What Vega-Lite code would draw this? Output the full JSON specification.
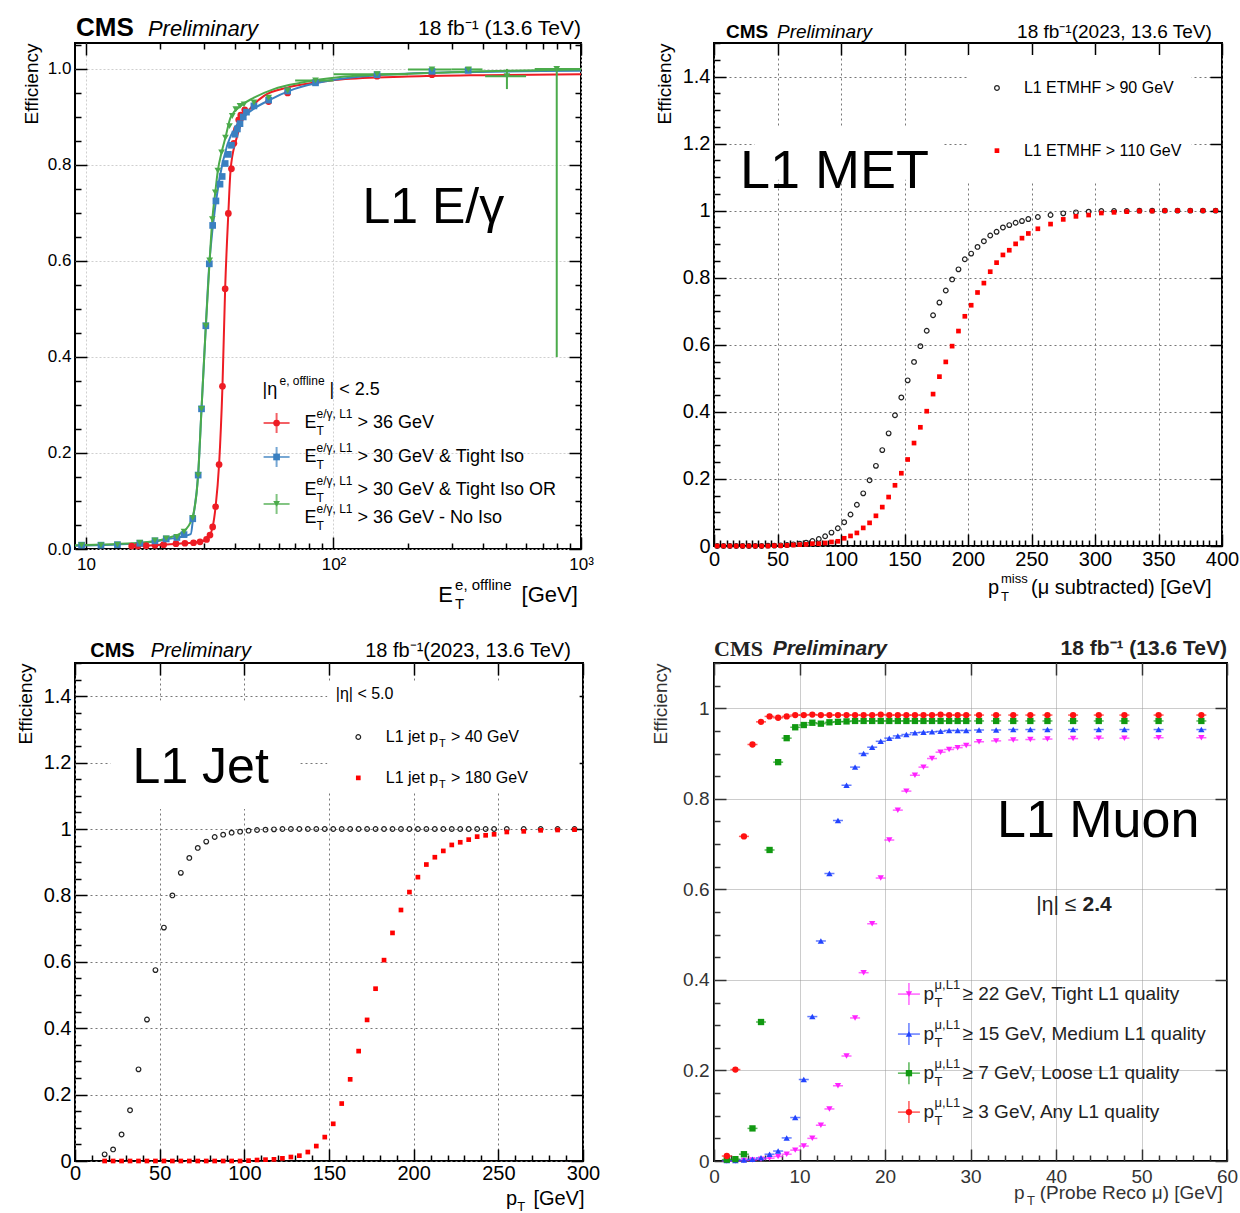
{
"$schema": "https://vega.github.io/schema/vega-lite/v6.json",
"background": "white",
"padding": {"left": 15, "top": 14, "right": 0, "bottom": 0},
"config": {
  "font": "Liberation Sans",
  "view": {"stroke": "black", "strokeWidth": 2},
  "axis": {"domain": false, "labelColor": "black", "tickColor": "black", "tickWidth": 1.5, "tickCount": 300, "labelFont": "Liberation Sans", "titleFont": "Liberation Sans", "titleFontWeight": "normal", "titleColor": "black", "labelFlush": false, "labelOverlap": false}
},
"resolve": {"scale": {"color": "independent", "shape": "independent"}},
"datasets": {
  "tl_pts": [
    {"s":"r","x":15.3,"y":0.006},{"s":"r","x":16.2,"y":0.006},{"s":"r","x":17.5,"y":0.007},{"s":"r","x":19.0,"y":0.008},{"s":"r","x":20.6,"y":0.009},{"s":"r","x":23.1,"y":0.011},{"s":"r","x":25.1,"y":0.012},{"s":"r","x":27.2,"y":0.013},{"s":"r","x":28.9,"y":0.015},{"s":"r","x":30.7,"y":0.020},{"s":"r","x":31.7,"y":0.029},{"s":"r","x":32.5,"y":0.046},{"s":"r","x":33.4,"y":0.088},{"s":"r","x":34.5,"y":0.176},{"s":"r","x":35.6,"y":0.339},{"s":"r","x":36.5,"y":0.542},{"s":"r","x":37.6,"y":0.699},{"s":"r","x":38.7,"y":0.792},{"s":"r","x":39.6,"y":0.845},{"s":"r","x":40.6,"y":0.875},{"s":"r","x":41.4,"y":0.894},{"s":"r","x":42.2,"y":0.904},{"s":"r","x":43.8,"y":0.915},{"s":"r","x":54.7,"y":0.932},{"s":"r","x":65.3,"y":0.950},{"s":"r","x":84.6,"y":0.972},{"s":"r","x":150,"y":0.985},{"s":"r","x":250,"y":0.988},
    {"s":"b","x":9.6,"y":0.008},{"s":"b","x":11.5,"y":0.008},{"s":"b","x":13.4,"y":0.009},{"s":"b","x":16.5,"y":0.012},{"s":"b","x":19.0,"y":0.017},{"s":"b","x":21.1,"y":0.021},{"s":"b","x":23.3,"y":0.024},{"s":"b","x":24.9,"y":0.030},{"s":"b","x":27.0,"y":0.063},{"s":"b","x":28.4,"y":0.154},{"s":"b","x":29.3,"y":0.292},{"s":"b","x":30.5,"y":0.465},{"s":"b","x":31.5,"y":0.594},{"s":"b","x":32.5,"y":0.674},{"s":"b","x":33.5,"y":0.725},{"s":"b","x":34.8,"y":0.760},{"s":"b","x":35.5,"y":0.776},{"s":"b","x":36.5,"y":0.803},{"s":"b","x":37.6,"y":0.822},{"s":"b","x":38.7,"y":0.841},{"s":"b","x":40.0,"y":0.864},{"s":"b","x":40.9,"y":0.875},{"s":"b","x":41.9,"y":0.886},{"s":"b","x":43.2,"y":0.900},{"s":"b","x":44.5,"y":0.910},{"s":"b","x":47.7,"y":0.923},{"s":"b","x":54.7,"y":0.935},{"s":"b","x":65.3,"y":0.954},{"s":"b","x":84.6,"y":0.971},{"s":"b","x":150,"y":0.988},{"s":"b","x":250,"y":0.995},{"s":"b","x":350,"y":0.997},
    {"s":"g","x":9.6,"y":0.008},{"s":"g","x":11.5,"y":0.008},{"s":"g","x":13.4,"y":0.009},{"s":"g","x":16.5,"y":0.013},{"s":"g","x":19.0,"y":0.018},{"s":"g","x":21.1,"y":0.022},{"s":"g","x":23.3,"y":0.025},{"s":"g","x":24.9,"y":0.036},{"s":"g","x":27.0,"y":0.065},{"s":"g","x":28.4,"y":0.154},{"s":"g","x":29.3,"y":0.292},{"s":"g","x":30.5,"y":0.465},{"s":"g","x":31.6,"y":0.601},{"s":"g","x":32.4,"y":0.687},{"s":"g","x":33.3,"y":0.743},{"s":"g","x":34.1,"y":0.788},{"s":"g","x":35.3,"y":0.826},{"s":"g","x":36.6,"y":0.857},{"s":"g","x":38.0,"y":0.881},{"s":"g","x":39.0,"y":0.902},{"s":"g","x":40.3,"y":0.916},{"s":"g","x":41.9,"y":0.923},{"s":"g","x":43.5,"y":0.926},{"s":"g","x":47.7,"y":0.930},{"s":"g","x":54.7,"y":0.940},{"s":"g","x":65.3,"y":0.955},{"s":"g","x":84.6,"y":0.976},{"s":"g","x":150,"y":0.989},{"s":"g","x":250,"y":0.999},{"s":"g","x":351,"y":0.999},{"s":"g","x":502,"y":0.985},{"s":"g","x":798,"y":1.0}
  ],
  "tl_fit": [
    {"s":"r","x":15.0,"y":0.006},{"s":"r","x":20.6,"y":0.009},{"s":"r","x":25.1,"y":0.012},{"s":"r","x":28.9,"y":0.015},{"s":"r","x":30.7,"y":0.020},{"s":"r","x":31.7,"y":0.029},{"s":"r","x":32.5,"y":0.046},{"s":"r","x":33.4,"y":0.088},{"s":"r","x":34.5,"y":0.176},{"s":"r","x":35.6,"y":0.339},{"s":"r","x":36.5,"y":0.542},{"s":"r","x":37.6,"y":0.699},{"s":"r","x":38.4,"y":0.79},{"s":"r","x":40.3,"y":0.85},{"s":"r","x":42.8,"y":0.892},{"s":"r","x":46.3,"y":0.919},{"s":"r","x":52.4,"y":0.944},{"s":"r","x":65.1,"y":0.961},{"s":"r","x":83.3,"y":0.971},{"s":"r","x":106.7,"y":0.978},{"s":"r","x":200,"y":0.984},{"s":"r","x":400,"y":0.987},{"s":"r","x":1000,"y":0.989},
    {"s":"b","x":9.03,"y":0.007},{"s":"b","x":16.5,"y":0.012},{"s":"b","x":21.1,"y":0.02},{"s":"b","x":26.5,"y":0.031},{"s":"b","x":27.1,"y":0.065},{"s":"b","x":28.4,"y":0.156},{"s":"b","x":29.3,"y":0.292},{"s":"b","x":30.5,"y":0.465},{"s":"b","x":31.5,"y":0.594},{"s":"b","x":32.4,"y":0.6625},{"s":"b","x":34.5,"y":0.767},{"s":"b","x":37.3,"y":0.843},{"s":"b","x":40.9,"y":0.885},{"s":"b","x":46.3,"y":0.9125},{"s":"b","x":54.0,"y":0.933},{"s":"b","x":69.2,"y":0.958},{"s":"b","x":94.3,"y":0.975},{"s":"b","x":150,"y":0.987},{"s":"b","x":300,"y":0.993},{"s":"b","x":1000,"y":0.996},
    {"s":"g","x":9.03,"y":0.008},{"s":"g","x":16.5,"y":0.013},{"s":"g","x":21.1,"y":0.022},{"s":"g","x":24.9,"y":0.0375},{"s":"g","x":26.9,"y":0.065},{"s":"g","x":28.4,"y":0.156},{"s":"g","x":29.3,"y":0.292},{"s":"g","x":30.5,"y":0.465},{"s":"g","x":31.6,"y":0.601},{"s":"g","x":32.4,"y":0.687},{"s":"g","x":33.3,"y":0.743},{"s":"g","x":34.1,"y":0.788},{"s":"g","x":35.3,"y":0.826},{"s":"g","x":36.6,"y":0.857},{"s":"g","x":38.4,"y":0.899},{"s":"g","x":42.2,"y":0.923},{"s":"g","x":47.7,"y":0.94},{"s":"g","x":57.4,"y":0.958},{"s":"g","x":73.6,"y":0.971},{"s":"g","x":106.7,"y":0.983},{"s":"g","x":200,"y":0.99},{"s":"g","x":400,"y":0.995},{"s":"g","x":1000,"y":0.999}
  ],
  "tl_err": [
    {"x":84.6,"xlo":70,"xhi":100,"y":0.976,"ylo":0.972,"yhi":0.98},
    {"x":150,"xlo":100,"xhi":200,"y":0.989,"ylo":0.985,"yhi":0.993},
    {"x":250,"xlo":200,"xhi":300,"y":0.999,"ylo":0.995,"yhi":1.0},
    {"x":351,"xlo":300,"xhi":400,"y":0.999,"ylo":0.995,"yhi":1.0},
    {"x":502,"xlo":410,"xhi":600,"y":0.985,"ylo":0.958,"yhi":1.0},
    {"x":798,"xlo":650,"xhi":1000,"y":1.0,"ylo":0.40,"yhi":1.0}
  ],
  "tr_b": [
    {"x":2.5,"y":0},{"x":7.5,"y":0},{"x":12.5,"y":0},{"x":17.5,"y":0},{"x":22.5,"y":0},{"x":27.5,"y":0},{"x":32.5,"y":0},{"x":37.5,"y":0},{"x":42.5,"y":0.001},{"x":47.5,"y":0.001},{"x":52.5,"y":0.002},{"x":57.5,"y":0.003},{"x":62.5,"y":0.005},{"x":67.5,"y":0.007},{"x":72.5,"y":0.010},{"x":77.5,"y":0.015},{"x":82.5,"y":0.021},{"x":87.5,"y":0.029},{"x":92.5,"y":0.040},{"x":97.5,"y":0.053},{"x":102.5,"y":0.071},{"x":107.5,"y":0.094},{"x":112.5,"y":0.123},{"x":117.5,"y":0.157},{"x":122.5,"y":0.196},{"x":127.5,"y":0.239},{"x":132.5,"y":0.286},{"x":137.5,"y":0.336},{"x":142.5,"y":0.390},{"x":147.5,"y":0.443},{"x":152.5,"y":0.494},{"x":157.5,"y":0.549},{"x":162.5,"y":0.596},{"x":167.5,"y":0.642},{"x":172.5,"y":0.688},{"x":177.5,"y":0.726},{"x":182.5,"y":0.762},{"x":187.5,"y":0.795},{"x":192.5,"y":0.825},{"x":197.5,"y":0.855},{"x":202.5,"y":0.872},{"x":207.5,"y":0.892},{"x":212.5,"y":0.909},{"x":217.5,"y":0.926},{"x":222.5,"y":0.937},{"x":227.5,"y":0.950},{"x":232.5,"y":0.957},{"x":237.5,"y":0.964},{"x":242.5,"y":0.969},{"x":247.5,"y":0.975},{"x":255,"y":0.981},{"x":265,"y":0.987},{"x":275,"y":0.992},{"x":285,"y":0.995},{"x":295,"y":0.997},{"x":305,"y":0.999},{"x":315,"y":0.999},{"x":325,"y":0.999},{"x":335,"y":1.0},{"x":345,"y":1.0},{"x":355,"y":1.0},{"x":365,"y":1.0},{"x":375,"y":1.0},{"x":385,"y":1.0},{"x":395,"y":1.0}
  ],
  "tr_r": [
    {"x":2.5,"y":0},{"x":7.5,"y":0},{"x":12.5,"y":0},{"x":17.5,"y":0},{"x":22.5,"y":0},{"x":27.5,"y":0},{"x":32.5,"y":0},{"x":37.5,"y":0},{"x":42.5,"y":0},{"x":47.5,"y":0.001},{"x":52.5,"y":0.001},{"x":57.5,"y":0.002},{"x":62.5,"y":0.003},{"x":67.5,"y":0.004},{"x":72.5,"y":0.005},{"x":77.5,"y":0.007},{"x":82.5,"y":0.007},{"x":87.5,"y":0.009},{"x":92.5,"y":0.012},{"x":97.5,"y":0.014},{"x":102.5,"y":0.023},{"x":107.5,"y":0.030},{"x":112.5,"y":0.039},{"x":117.5,"y":0.054},{"x":122.5,"y":0.069},{"x":127.5,"y":0.090},{"x":132.5,"y":0.116},{"x":137.5,"y":0.146},{"x":142.5,"y":0.181},{"x":147.5,"y":0.217},{"x":152.5,"y":0.258},{"x":157.5,"y":0.307},{"x":162.5,"y":0.354},{"x":167.5,"y":0.402},{"x":172.5,"y":0.453},{"x":177.5,"y":0.505},{"x":182.5,"y":0.549},{"x":187.5,"y":0.596},{"x":192.5,"y":0.641},{"x":197.5,"y":0.685},{"x":202.5,"y":0.718},{"x":207.5,"y":0.756},{"x":212.5,"y":0.784},{"x":217.5,"y":0.818},{"x":222.5,"y":0.845},{"x":227.5,"y":0.868},{"x":232.5,"y":0.882},{"x":237.5,"y":0.901},{"x":242.5,"y":0.918},{"x":247.5,"y":0.932},{"x":255,"y":0.946},{"x":265,"y":0.960},{"x":275,"y":0.974},{"x":285,"y":0.983},{"x":295,"y":0.987},{"x":305,"y":0.993},{"x":315,"y":0.995},{"x":325,"y":0.997},{"x":335,"y":0.999},{"x":345,"y":0.999},{"x":355,"y":1.0},{"x":365,"y":1.0},{"x":375,"y":1.0},{"x":385,"y":1.0},{"x":395,"y":1.0}
  ],
  "bl_b": [
    {"x":17.5,"y":0.020},{"x":22.5,"y":0.035},{"x":27.5,"y":0.080},{"x":32.5,"y":0.153},{"x":37.5,"y":0.276},{"x":42.5,"y":0.426},{"x":47.5,"y":0.575},{"x":52.5,"y":0.703},{"x":57.5,"y":0.800},{"x":62.5,"y":0.868},{"x":67.5,"y":0.913},{"x":72.5,"y":0.943},{"x":77.5,"y":0.962},{"x":82.5,"y":0.976},{"x":87.5,"y":0.983},{"x":92.5,"y":0.989},{"x":97.5,"y":0.992},{"x":102.5,"y":0.995},{"x":107.5,"y":0.997},{"x":112.5,"y":0.998},{"x":117.5,"y":0.999},{"x":122.5,"y":1.0},{"x":127.5,"y":1.0},{"x":132.5,"y":1.0},{"x":137.5,"y":1.0},{"x":142.5,"y":1.0},{"x":147.5,"y":1.0},{"x":152.5,"y":1.0},{"x":157.5,"y":1.0},{"x":162.5,"y":1.0},{"x":167.5,"y":1.0},{"x":172.5,"y":1.0},{"x":177.5,"y":1.0},{"x":182.5,"y":1.0},{"x":187.5,"y":1.0},{"x":192.5,"y":1.0},{"x":197.5,"y":1.0},{"x":202.5,"y":1.0},{"x":207.5,"y":1.0},{"x":212.5,"y":1.0},{"x":217.5,"y":1.0},{"x":222.5,"y":1.0},{"x":227.5,"y":1.0},{"x":232.5,"y":1.0},{"x":237.5,"y":1.0},{"x":242.5,"y":1.0},{"x":247.5,"y":1.0},{"x":255,"y":1.0},{"x":265,"y":1.0},{"x":275,"y":1.0},{"x":285,"y":1.0},{"x":295,"y":1.0}
  ],
  "bl_r": [
    {"x":17.5,"y":0},{"x":22.5,"y":0},{"x":27.5,"y":0},{"x":32.5,"y":0},{"x":37.5,"y":0},{"x":42.5,"y":0},{"x":47.5,"y":0},{"x":52.5,"y":0},{"x":57.5,"y":0},{"x":62.5,"y":0},{"x":67.5,"y":0},{"x":72.5,"y":0},{"x":77.5,"y":0},{"x":82.5,"y":0},{"x":87.5,"y":0},{"x":92.5,"y":0},{"x":97.5,"y":0},{"x":102.5,"y":0.001},{"x":107.5,"y":0.003},{"x":112.5,"y":0.004},{"x":117.5,"y":0.005},{"x":122.5,"y":0.008},{"x":127.5,"y":0.012},{"x":132.5,"y":0.016},{"x":137.5,"y":0.027},{"x":142.5,"y":0.045},{"x":147.5,"y":0.072},{"x":152.5,"y":0.112},{"x":157.5,"y":0.173},{"x":162.5,"y":0.246},{"x":167.5,"y":0.331},{"x":172.5,"y":0.425},{"x":177.5,"y":0.519},{"x":182.5,"y":0.605},{"x":187.5,"y":0.687},{"x":192.5,"y":0.756},{"x":197.5,"y":0.810},{"x":202.5,"y":0.855},{"x":207.5,"y":0.893},{"x":212.5,"y":0.915},{"x":217.5,"y":0.934},{"x":222.5,"y":0.952},{"x":227.5,"y":0.960},{"x":232.5,"y":0.968},{"x":237.5,"y":0.977},{"x":242.5,"y":0.981},{"x":247.5,"y":0.984},{"x":255,"y":0.991},{"x":265,"y":0.993},{"x":275,"y":0.996},{"x":285,"y":0.997},{"x":295,"y":0.998}
  ],
  "br_pts": [
    {"s":"m","x":1.5,"y":0.0},{"s":"m","x":2.5,"y":0.0},{"s":"m","x":3.5,"y":0.001},{"s":"m","x":4.5,"y":0.002},{"s":"m","x":5.5,"y":0.004},{"s":"m","x":6.5,"y":0.006},{"s":"m","x":7.5,"y":0.010},{"s":"m","x":8.5,"y":0.015},{"s":"m","x":9.5,"y":0.024},{"s":"m","x":10.5,"y":0.033},{"s":"m","x":11.5,"y":0.050},{"s":"m","x":12.5,"y":0.079},{"s":"m","x":13.5,"y":0.115},{"s":"m","x":14.5,"y":0.166},{"s":"m","x":15.5,"y":0.232},{"s":"m","x":16.5,"y":0.316},{"s":"m","x":17.5,"y":0.416},{"s":"m","x":18.5,"y":0.524},{"s":"m","x":19.5,"y":0.625},{"s":"m","x":20.5,"y":0.709},{"s":"m","x":21.5,"y":0.775},{"s":"m","x":22.5,"y":0.817},{"s":"m","x":23.5,"y":0.852},{"s":"m","x":24.5,"y":0.870},{"s":"m","x":25.5,"y":0.889},{"s":"m","x":26.5,"y":0.903},{"s":"m","x":27.5,"y":0.909},{"s":"m","x":28.5,"y":0.913},{"s":"m","x":29.5,"y":0.918},{"s":"m","x":31,"y":0.926},{"s":"m","x":33,"y":0.928},{"s":"m","x":35,"y":0.930},{"s":"m","x":37,"y":0.931},{"s":"m","x":39,"y":0.932},{"s":"m","x":42,"y":0.933},{"s":"m","x":45,"y":0.934},{"s":"m","x":48,"y":0.934},{"s":"m","x":52,"y":0.935},{"s":"m","x":57,"y":0.935},
    {"s":"b","x":1.5,"y":0.001},{"s":"b","x":2.5,"y":0.001},{"s":"b","x":3.5,"y":0.002},{"s":"b","x":4.5,"y":0.004},{"s":"b","x":5.5,"y":0.007},{"s":"b","x":6.5,"y":0.015},{"s":"b","x":7.5,"y":0.022},{"s":"b","x":8.5,"y":0.051},{"s":"b","x":9.5,"y":0.096},{"s":"b","x":10.5,"y":0.180},{"s":"b","x":11.5,"y":0.319},{"s":"b","x":12.5,"y":0.486},{"s":"b","x":13.5,"y":0.635},{"s":"b","x":14.5,"y":0.752},{"s":"b","x":15.5,"y":0.830},{"s":"b","x":16.5,"y":0.870},{"s":"b","x":17.5,"y":0.900},{"s":"b","x":18.5,"y":0.914},{"s":"b","x":19.5,"y":0.927},{"s":"b","x":20.5,"y":0.934},{"s":"b","x":21.5,"y":0.939},{"s":"b","x":22.5,"y":0.942},{"s":"b","x":23.5,"y":0.946},{"s":"b","x":24.5,"y":0.947},{"s":"b","x":25.5,"y":0.948},{"s":"b","x":26.5,"y":0.949},{"s":"b","x":27.5,"y":0.951},{"s":"b","x":28.5,"y":0.951},{"s":"b","x":29.5,"y":0.951},{"s":"b","x":31,"y":0.952},{"s":"b","x":33,"y":0.952},{"s":"b","x":35,"y":0.953},{"s":"b","x":37,"y":0.953},{"s":"b","x":39,"y":0.953},{"s":"b","x":42,"y":0.953},{"s":"b","x":45,"y":0.953},{"s":"b","x":48,"y":0.953},{"s":"b","x":52,"y":0.953},{"s":"b","x":57,"y":0.953},
    {"s":"g","x":1.5,"y":0.003},{"s":"g","x":2.5,"y":0.004},{"s":"g","x":3.5,"y":0.015},{"s":"g","x":4.5,"y":0.072},{"s":"g","x":5.5,"y":0.307},{"s":"g","x":6.5,"y":0.687},{"s":"g","x":7.5,"y":0.881},{"s":"g","x":8.5,"y":0.934},{"s":"g","x":9.5,"y":0.958},{"s":"g","x":10.5,"y":0.963},{"s":"g","x":11.5,"y":0.968},{"s":"g","x":12.5,"y":0.966},{"s":"g","x":13.5,"y":0.969},{"s":"g","x":14.5,"y":0.970},{"s":"g","x":15.5,"y":0.971},{"s":"g","x":16.5,"y":0.972},{"s":"g","x":17.5,"y":0.972},{"s":"g","x":18.5,"y":0.972},{"s":"g","x":19.5,"y":0.972},{"s":"g","x":20.5,"y":0.972},{"s":"g","x":21.5,"y":0.972},{"s":"g","x":22.5,"y":0.972},{"s":"g","x":23.5,"y":0.972},{"s":"g","x":24.5,"y":0.972},{"s":"g","x":25.5,"y":0.972},{"s":"g","x":26.5,"y":0.972},{"s":"g","x":27.5,"y":0.972},{"s":"g","x":28.5,"y":0.972},{"s":"g","x":29.5,"y":0.972},{"s":"g","x":31,"y":0.972},{"s":"g","x":33,"y":0.972},{"s":"g","x":35,"y":0.972},{"s":"g","x":37,"y":0.972},{"s":"g","x":39,"y":0.972},{"s":"g","x":42,"y":0.972},{"s":"g","x":45,"y":0.972},{"s":"g","x":48,"y":0.972},{"s":"g","x":52,"y":0.972},{"s":"g","x":57,"y":0.972},
    {"s":"r","x":1.5,"y":0.011},{"s":"r","x":2.5,"y":0.202},{"s":"r","x":3.5,"y":0.717},{"s":"r","x":4.5,"y":0.920},{"s":"r","x":5.5,"y":0.970},{"s":"r","x":6.5,"y":0.982},{"s":"r","x":7.5,"y":0.979},{"s":"r","x":8.5,"y":0.982},{"s":"r","x":9.5,"y":0.985},{"s":"r","x":10.5,"y":0.985},{"s":"r","x":11.5,"y":0.986},{"s":"r","x":12.5,"y":0.985},{"s":"r","x":13.5,"y":0.985},{"s":"r","x":14.5,"y":0.985},{"s":"r","x":15.5,"y":0.985},{"s":"r","x":16.5,"y":0.985},{"s":"r","x":17.5,"y":0.985},{"s":"r","x":18.5,"y":0.985},{"s":"r","x":19.5,"y":0.986},{"s":"r","x":20.5,"y":0.985},{"s":"r","x":21.5,"y":0.985},{"s":"r","x":22.5,"y":0.985},{"s":"r","x":23.5,"y":0.985},{"s":"r","x":24.5,"y":0.985},{"s":"r","x":25.5,"y":0.985},{"s":"r","x":26.5,"y":0.986},{"s":"r","x":27.5,"y":0.985},{"s":"r","x":28.5,"y":0.985},{"s":"r","x":29.5,"y":0.985},{"s":"r","x":31,"y":0.985},{"s":"r","x":33,"y":0.985},{"s":"r","x":35,"y":0.985},{"s":"r","x":37,"y":0.985},{"s":"r","x":39,"y":0.985},{"s":"r","x":42,"y":0.985},{"s":"r","x":45,"y":0.985},{"s":"r","x":48,"y":0.985},{"s":"r","x":52,"y":0.985},{"s":"r","x":57,"y":0.985}
  ]
},
"columns": 2,
"spacing": {"row": 114, "column": 131},
"bounds": "flush",
"concat": [
  {"width": 506, "height": 506,
   "resolve": {"axis": {"x": "independent", "y": "independent"}},
   "layer": [
   {"layer": [
    {"data": {"name": "tl_fit"}, "mark": {"type": "line", "strokeWidth": 2, "interpolate": "monotone"},
     "encoding": {
       "x": {"field": "x", "type": "quantitative", "scale": {"type": "log", "domain": [9.03, 1000], "nice": false},
             "axis": {"values": [10,20,30,40,50,60,70,80,90,100,200,300,400,500,600,700,800,900,1000], "tickCount": 300,
                      "labelExpr": "datum.value == 10 ? '10' : (datum.value == 100 ? '10²' : (datum.value == 1000 ? '10³' : ''))",
                      "tickSize": {"condition": {"test": "datum.value == 10 || datum.value == 100 || datum.value == 1000", "value": -12}, "value": -6},
                      "gridOpacity": {"condition": {"test": "datum.value == 10 || datum.value == 100 || datum.value == 1000", "value": 1}, "value": 0},
                      "title": null, "labelFontSize": 17, "gridColor": "#cfcfcf", "gridDash": [2, 2], "labelPadding": 19}},
       "y": {"field": "y", "type": "quantitative", "scale": {"domain": [0, 1.054], "nice": false},
             "axis": {"values": [0,0.05,0.1,0.15,0.2,0.25,0.3,0.35,0.4,0.45,0.5,0.55,0.6,0.65,0.7,0.75,0.8,0.85,0.9,0.95,1.0,1.05], "tickCount": 300,
                      "labelExpr": "abs(datum.value*5 - round(datum.value*5)) < 0.01 ? format(datum.value, '.1f') : ''",
                      "tickSize": {"condition": {"test": "abs(datum.value*5 - round(datum.value*5)) < 0.01", "value": -12}, "value": -6},
                      "gridOpacity": {"condition": {"test": "abs(datum.value*5 - round(datum.value*5)) < 0.01", "value": 1}, "value": 0},
                      "title": "Efficiency", "titleFontSize": 19, "titleAnchor": "end", "titlePadding": 6, "labelFontSize": 17, "gridColor": "#cfcfcf", "gridDash": [2, 2], "labelPadding": 16}},
       "color": {"field": "s", "type": "nominal", "scale": {"domain": ["r", "b", "g"], "range": ["#ee1c24", "#3a80c1", "#4bab4b"]}, "legend": null},
       "detail": {"field": "s"}}},
    {"data": {"name": "tl_err"}, "mark": {"type": "rule", "color": "#4bab4b", "strokeWidth": 2},
     "encoding": {"x": {"field": "xlo", "type": "quantitative"}, "x2": {"field": "xhi"}, "y": {"field": "y", "type": "quantitative"}}},
    {"data": {"name": "tl_err"}, "mark": {"type": "rule", "color": "#4bab4b", "strokeWidth": 2},
     "encoding": {"x": {"field": "x", "type": "quantitative"}, "y": {"field": "ylo", "type": "quantitative"}, "y2": {"field": "yhi"}}},
    {"data": {"name": "tl_pts"}, "mark": {"type": "point", "filled": true, "opacity": 1, "size": 45},
     "encoding": {"x": {"field": "x", "type": "quantitative"}, "y": {"field": "y", "type": "quantitative"},
       "color": {"field": "s", "type": "nominal", "legend": null},
       "shape": {"field": "s", "type": "nominal", "scale": {"domain": ["r", "b", "g"], "range": ["circle", "square", "triangle-down"]}, "legend": null}}},
    {"data": {"values": [{"s": "r", "x": 58.9, "y": 0.2625}, {"s": "b", "x": 58.9, "y": 0.1917}, {"s": "g", "x": 58.9, "y": 0.0938}]},
     "layer": [
      {"mark": {"type": "tick", "orient": "horizontal", "size": 26, "thickness": 2},
       "encoding": {"x": {"field": "x", "type": "quantitative"}, "y": {"field": "y", "type": "quantitative"}, "color": {"field": "s", "type": "nominal", "legend": null}}},
      {"mark": {"type": "tick", "orient": "vertical", "size": 20, "thickness": 2},
       "encoding": {"x": {"field": "x", "type": "quantitative"}, "y": {"field": "y", "type": "quantitative"}, "color": {"field": "s", "type": "nominal", "legend": null}}},
      {"mark": {"type": "point", "filled": true, "opacity": 1, "size": 45},
       "encoding": {"x": {"field": "x", "type": "quantitative"}, "y": {"field": "y", "type": "quantitative"}, "color": {"field": "s", "type": "nominal", "legend": null}, "shape": {"field": "s", "type": "nominal", "legend": null}}}
     ]},
    {"data": {"values": [{"t": "CMS", "x": 9.11, "y": 1.085}]}, "mark": {"type": "text", "align": "left", "baseline": "middle", "fontSize": 26, "fontWeight": "bold"},
     "encoding": {"x": {"field": "x", "type": "quantitative"}, "y": {"field": "y", "type": "quantitative"}, "text": {"field": "t"}}},
    {"data": {"values": [{"t": "Preliminary", "x": 17.8, "y": 1.083}]}, "mark": {"type": "text", "align": "left", "baseline": "middle", "fontSize": 22, "fontStyle": "italic"},
     "encoding": {"x": {"field": "x", "type": "quantitative"}, "y": {"field": "y", "type": "quantitative"}, "text": {"field": "t"}}},
    {"data": {"values": [{"t": "18 fb⁻¹ (13.6 TeV)", "x": 1000, "y": 1.083}]}, "mark": {"type": "text", "align": "right", "baseline": "middle", "fontSize": 21},
     "encoding": {"x": {"field": "x", "type": "quantitative"}, "y": {"field": "y", "type": "quantitative"}, "text": {"field": "t"}}},
    {"data": {"values": [{"t": "L1 E/γ", "x": 130.9, "y": 0.71}]}, "mark": {"type": "text", "align": "left", "baseline": "middle", "fontSize": 50},
     "encoding": {"x": {"field": "x", "type": "quantitative"}, "y": {"field": "y", "type": "quantitative"}, "text": {"field": "t"}}},
    {"data": {"values": [{"t": "|η", "x": 51.7, "y": 0.331}, {"t": "| < 2.5", "x": 96.4, "y": 0.331}, {"t": "E", "x": 76.4, "y": 0.2625}, {"t": "E", "x": 76.4, "y": 0.1917}, {"t": "E", "x": 76.4, "y": 0.1229}, {"t": "E", "x": 76.4, "y": 0.0646}, {"t": "> 36 GeV", "x": 125, "y": 0.2625}, {"t": "> 30 GeV & Tight Iso", "x": 125, "y": 0.1917}, {"t": "> 30 GeV & Tight Iso OR", "x": 125, "y": 0.1229}, {"t": "> 36 GeV - No Iso", "x": 125, "y": 0.0646}]},
     "mark": {"type": "text", "align": "left", "baseline": "middle", "fontSize": 18},
     "encoding": {"x": {"field": "x", "type": "quantitative"}, "y": {"field": "y", "type": "quantitative"}, "text": {"field": "t"}}},
    {"data": {"values": [{"t": "e, offline", "x": 60.5, "y": 0.331}, {"t": "e/γ, L1", "x": 85.4, "y": 0.2625}, {"t": "e/γ, L1", "x": 85.4, "y": 0.1917}, {"t": "e/γ, L1", "x": 85.4, "y": 0.1229}, {"t": "e/γ, L1", "x": 85.4, "y": 0.0646}]},
     "mark": {"type": "text", "align": "left", "baseline": "middle", "fontSize": 12, "dy": -9},
     "encoding": {"x": {"field": "x", "type": "quantitative"}, "y": {"field": "y", "type": "quantitative"}, "text": {"field": "t"}}},
    {"data": {"values": [{"t": "T", "x": 85.4, "y": 0.2625}, {"t": "T", "x": 85.4, "y": 0.1917}, {"t": "T", "x": 85.4, "y": 0.1229}, {"t": "T", "x": 85.4, "y": 0.0646}]},
     "mark": {"type": "text", "align": "left", "baseline": "middle", "fontSize": 12, "dy": 8},
     "encoding": {"x": {"field": "x", "type": "quantitative"}, "y": {"field": "y", "type": "quantitative"}, "text": {"field": "t"}}},
    {"data": {"values": [{"t": "E", "x": 265, "y": -0.0958}, {"t": "[GeV]", "x": 575, "y": -0.0958}]},
     "mark": {"type": "text", "align": "left", "baseline": "middle", "fontSize": 22},
     "encoding": {"x": {"field": "x", "type": "quantitative"}, "y": {"field": "y", "type": "quantitative"}, "text": {"field": "t"}}},
    {"data": {"values": [{"t": "e, offline", "x": 310, "y": -0.0958}]},
     "mark": {"type": "text", "align": "left", "baseline": "middle", "fontSize": 15, "dy": -10},
     "encoding": {"x": {"field": "x", "type": "quantitative"}, "y": {"field": "y", "type": "quantitative"}, "text": {"field": "t"}}},
    {"data": {"values": [{"t": "T", "x": 310, "y": -0.0958}]},
     "mark": {"type": "text", "align": "left", "baseline": "middle", "fontSize": 15, "dy": 9},
     "encoding": {"x": {"field": "x", "type": "quantitative"}, "y": {"field": "y", "type": "quantitative"}, "text": {"field": "t"}}}
   ]},
   {"data": {"values": [{"x": 50, "y": 0.5}]}, "mark": {"type": "point", "opacity": 0},
    "encoding": {
      "x": {"field": "x", "type": "quantitative", "axis": {"orient": "top", "values": [10,20,30,40,50,60,70,80,90,100,200,300,400,500,600,700,800,900,1000], "tickCount": 300, "labels": false, "grid": false, "title": null,
             "tickSize": {"condition": {"test": "datum.value == 10 || datum.value == 100 || datum.value == 1000", "value": -12}, "value": -6}}},
      "y": {"field": "y", "type": "quantitative", "axis": {"orient": "right", "values": [0,0.05,0.1,0.15,0.2,0.25,0.3,0.35,0.4,0.45,0.5,0.55,0.6,0.65,0.7,0.75,0.8,0.85,0.9,0.95,1.0,1.05], "tickCount": 300, "labels": false, "grid": false, "title": null,
             "tickSize": {"condition": {"test": "abs(datum.value*5 - round(datum.value*5)) < 0.01", "value": -12}, "value": -6}}}}}
   ]},
  {"width": 508, "height": 503,
   "resolve": {"axis": {"x": "independent", "y": "independent"}},
   "layer": [
   {"layer": [
    {"data": {"values": [{"x": 32, "x2": 180, "y": 1.092, "y2": 1.25}, {"x": 200, "x2": 376, "y": 1.086, "y2": 1.464}]},
     "mark": {"type": "rect", "color": "white"},
     "encoding": {
       "x": {"field": "x", "type": "quantitative", "scale": {"domain": [0, 400], "nice": false},
             "axis": {"values": [0,5,10,15,20,25,30,35,40,45,50,55,60,65,70,75,80,85,90,95,100,105,110,115,120,125,130,135,140,145,150,155,160,165,170,175,180,185,190,195,200,205,210,215,220,225,230,235,240,245,250,255,260,265,270,275,280,285,290,295,300,305,310,315,320,325,330,335,340,345,350,355,360,365,370,375,380,385,390,395,400], "tickCount": 300,
                      "format": "d",
                      "labelExpr": "datum.value % 50 == 0 ? datum.label : ''",
                      "tickSize": {"condition": {"test": "datum.value % 50 == 0", "value": -12}, "value": -6},
                      "gridOpacity": {"condition": {"test": "datum.value % 50 == 0", "value": 1}, "value": 0},
                      "title": null, "labelFontSize": 20, "gridColor": "#777", "gridDash": [2, 3], "labelPadding": 15}},
       "x2": {"field": "x2"},
       "y": {"field": "y", "type": "quantitative", "scale": {"domain": [0, 1.5], "nice": false},
             "axis": {"values": [0,0.05,0.1,0.15,0.2,0.25,0.3,0.35,0.4,0.45,0.5,0.55,0.6,0.65,0.7,0.75,0.8,0.85,0.9,0.95,1.0,1.05,1.1,1.15,1.2,1.25,1.3,1.35,1.4,1.45,1.5], "tickCount": 300,
                      "format": "~g",
                      "labelExpr": "abs(datum.value*5 - round(datum.value*5)) < 0.01 && datum.value < 1.45 ? datum.label : ''",
                      "tickSize": {"condition": {"test": "abs(datum.value*5 - round(datum.value*5)) < 0.01", "value": -12}, "value": -6},
                      "gridOpacity": {"condition": {"test": "abs(datum.value*5 - round(datum.value*5)) < 0.01", "value": 1}, "value": 0},
                      "title": "Efficiency", "titleFontSize": 19, "titleAnchor": "end", "titlePadding": 8, "labelFontSize": 20, "gridColor": "#777", "gridDash": [2, 3], "labelPadding": 16}},
       "y2": {"field": "y2"}}},
    {"data": {"name": "tr_b"}, "mark": {"type": "point", "filled": false, "color": "#222", "size": 22, "strokeWidth": 1.2, "opacity": 1},
     "encoding": {"x": {"field": "x", "type": "quantitative"}, "y": {"field": "y", "type": "quantitative"}}},
    {"data": {"name": "tr_r"}, "mark": {"type": "point", "filled": true, "shape": "square", "color": "#ff0000", "size": 22, "opacity": 1},
     "encoding": {"x": {"field": "x", "type": "quantitative"}, "y": {"field": "y", "type": "quantitative"}}},
    {"data": {"values": [{"x": 222.8, "y": 1.366}]}, "mark": {"type": "point", "filled": false, "color": "#222", "size": 22, "strokeWidth": 1.2, "opacity": 1},
     "encoding": {"x": {"field": "x", "type": "quantitative"}, "y": {"field": "y", "type": "quantitative"}}},
    {"data": {"values": [{"x": 222.8, "y": 1.179}]}, "mark": {"type": "point", "filled": true, "shape": "square", "color": "#ff0000", "size": 22, "opacity": 1},
     "encoding": {"x": {"field": "x", "type": "quantitative"}, "y": {"field": "y", "type": "quantitative"}}},
    {"data": {"values": [{"t": "L1 ETMHF > 90 GeV", "x": 244, "y": 1.366}, {"t": "L1 ETMHF > 110 GeV", "x": 244, "y": 1.179}]},
     "mark": {"type": "text", "align": "left", "baseline": "middle", "fontSize": 16},
     "encoding": {"x": {"field": "x", "type": "quantitative"}, "y": {"field": "y", "type": "quantitative"}, "text": {"field": "t"}}},
    {"data": {"values": [{"t": "L1 MET", "x": 20.5, "y": 1.116}]}, "mark": {"type": "text", "align": "left", "baseline": "middle", "fontSize": 54},
     "encoding": {"x": {"field": "x", "type": "quantitative"}, "y": {"field": "y", "type": "quantitative"}, "text": {"field": "t"}}},
    {"data": {"values": [{"t": "CMS", "x": 9.4, "y": 1.533}]}, "mark": {"type": "text", "align": "left", "baseline": "middle", "fontSize": 19, "fontWeight": "bold"},
     "encoding": {"x": {"field": "x", "type": "quantitative"}, "y": {"field": "y", "type": "quantitative"}, "text": {"field": "t"}}},
    {"data": {"values": [{"t": "Preliminary", "x": 49.6, "y": 1.533}]}, "mark": {"type": "text", "align": "left", "baseline": "middle", "fontSize": 19, "fontStyle": "italic"},
     "encoding": {"x": {"field": "x", "type": "quantitative"}, "y": {"field": "y", "type": "quantitative"}, "text": {"field": "t"}}},
    {"data": {"values": [{"t": "18 fb⁻¹(2023, 13.6 TeV)", "x": 392, "y": 1.533}]}, "mark": {"type": "text", "align": "right", "baseline": "middle", "fontSize": 19},
     "encoding": {"x": {"field": "x", "type": "quantitative"}, "y": {"field": "y", "type": "quantitative"}, "text": {"field": "t"}}},
    {"data": {"values": [{"t": "p", "x": 215.7, "y": -0.125}, {"t": "(μ subtracted) [GeV]", "x": 249.6, "y": -0.125}]},
     "mark": {"type": "text", "align": "left", "baseline": "middle", "fontSize": 20},
     "encoding": {"x": {"field": "x", "type": "quantitative"}, "y": {"field": "y", "type": "quantitative"}, "text": {"field": "t"}}},
    {"data": {"values": [{"t": "miss", "x": 226, "y": -0.125}]},
     "mark": {"type": "text", "align": "left", "baseline": "middle", "fontSize": 13, "dy": -9},
     "encoding": {"x": {"field": "x", "type": "quantitative"}, "y": {"field": "y", "type": "quantitative"}, "text": {"field": "t"}}},
    {"data": {"values": [{"t": "T", "x": 226, "y": -0.125}]},
     "mark": {"type": "text", "align": "left", "baseline": "middle", "fontSize": 13, "dy": 9},
     "encoding": {"x": {"field": "x", "type": "quantitative"}, "y": {"field": "y", "type": "quantitative"}, "text": {"field": "t"}}}
   ]},
   {"data": {"values": [{"x": 200, "y": 0.5}]}, "mark": {"type": "point", "opacity": 0},
    "encoding": {
      "x": {"field": "x", "type": "quantitative", "axis": {"orient": "top", "values": [0,50,100,150,200,250,300,350,400], "tickCount": 300, "labels": false, "grid": false, "title": null, "tickSize": -12}},
      "y": {"field": "y", "type": "quantitative", "axis": {"orient": "right", "values": [0,0.2,0.4,0.6,0.8,1.0,1.2,1.4], "tickCount": 300, "labels": false, "grid": false, "title": null, "tickSize": -12}}}}
   ]},
  {"width": 508, "height": 498,
   "resolve": {"axis": {"x": "independent", "y": "independent"}},
   "layer": [
   {"layer": [
    {"data": {"values": [{"x": 21, "x2": 133, "y": 1.06, "y2": 1.386}, {"x": 149, "x2": 298, "y": 1.114, "y2": 1.446}]},
     "mark": {"type": "rect", "color": "white"},
     "encoding": {
       "x": {"field": "x", "type": "quantitative", "scale": {"domain": [0, 300], "nice": false},
             "axis": {"values": [0,10,20,30,40,50,60,70,80,90,100,110,120,130,140,150,160,170,180,190,200,210,220,230,240,250,260,270,280,290,300], "tickCount": 300,
                      "format": "d",
                      "labelExpr": "datum.value % 50 == 0 ? datum.label : ''",
                      "tickSize": {"condition": {"test": "datum.value % 50 == 0", "value": -12}, "value": -6},
                      "gridOpacity": {"condition": {"test": "datum.value % 50 == 0", "value": 1}, "value": 0},
                      "title": null, "labelFontSize": 20, "gridColor": "#777", "gridDash": [2, 3], "labelPadding": 14}},
       "x2": {"field": "x2"},
       "y": {"field": "y", "type": "quantitative", "scale": {"domain": [0, 1.5], "nice": false},
             "axis": {"values": [0,0.05,0.1,0.15,0.2,0.25,0.3,0.35,0.4,0.45,0.5,0.55,0.6,0.65,0.7,0.75,0.8,0.85,0.9,0.95,1.0,1.05,1.1,1.15,1.2,1.25,1.3,1.35,1.4,1.45,1.5], "tickCount": 300,
                      "format": "~g",
                      "labelExpr": "abs(datum.value*5 - round(datum.value*5)) < 0.01 && datum.value < 1.45 ? datum.label : ''",
                      "tickSize": {"condition": {"test": "abs(datum.value*5 - round(datum.value*5)) < 0.01", "value": -12}, "value": -6},
                      "gridOpacity": {"condition": {"test": "abs(datum.value*5 - round(datum.value*5)) < 0.01", "value": 1}, "value": 0},
                      "title": "Efficiency", "titleFontSize": 19, "titleAnchor": "end", "titlePadding": 8, "labelFontSize": 20, "gridColor": "#777", "gridDash": [2, 3], "labelPadding": 16}},
       "y2": {"field": "y2"}}},
    {"data": {"name": "bl_b"}, "mark": {"type": "point", "filled": false, "color": "#222", "size": 22, "strokeWidth": 1.2, "opacity": 1},
     "encoding": {"x": {"field": "x", "type": "quantitative"}, "y": {"field": "y", "type": "quantitative"}}},
    {"data": {"name": "bl_r"}, "mark": {"type": "point", "filled": true, "shape": "square", "color": "#ff0000", "size": 22, "opacity": 1},
     "encoding": {"x": {"field": "x", "type": "quantitative"}, "y": {"field": "y", "type": "quantitative"}}},
    {"data": {"values": [{"x": 167.3, "y": 1.277}]}, "mark": {"type": "point", "filled": false, "color": "#222", "size": 22, "strokeWidth": 1.2, "opacity": 1},
     "encoding": {"x": {"field": "x", "type": "quantitative"}, "y": {"field": "y", "type": "quantitative"}}},
    {"data": {"values": [{"x": 167.3, "y": 1.154}]}, "mark": {"type": "point", "filled": true, "shape": "square", "color": "#ff0000", "size": 22, "opacity": 1},
     "encoding": {"x": {"field": "x", "type": "quantitative"}, "y": {"field": "y", "type": "quantitative"}}},
    {"data": {"values": [{"t": "|η| < 5.0", "x": 154, "y": 1.407}, {"t": "L1 jet p", "x": 183.5, "y": 1.277}, {"t": "> 40 GeV", "x": 222, "y": 1.277}, {"t": "L1 jet p", "x": 183.5, "y": 1.154}, {"t": "> 180 GeV", "x": 222, "y": 1.154}]},
     "mark": {"type": "text", "align": "left", "baseline": "middle", "fontSize": 16},
     "encoding": {"x": {"field": "x", "type": "quantitative"}, "y": {"field": "y", "type": "quantitative"}, "text": {"field": "t"}}},
    {"data": {"values": [{"t": "T", "x": 215, "y": 1.277}, {"t": "T", "x": 215, "y": 1.154}]},
     "mark": {"type": "text", "align": "left", "baseline": "middle", "fontSize": 11, "dy": 7},
     "encoding": {"x": {"field": "x", "type": "quantitative"}, "y": {"field": "y", "type": "quantitative"}, "text": {"field": "t"}}},
    {"data": {"values": [{"t": "L1 Jet", "x": 34, "y": 1.184}]}, "mark": {"type": "text", "align": "left", "baseline": "middle", "fontSize": 50},
     "encoding": {"x": {"field": "x", "type": "quantitative"}, "y": {"field": "y", "type": "quantitative"}, "text": {"field": "t"}}},
    {"data": {"values": [{"t": "CMS", "x": 9, "y": 1.536}]}, "mark": {"type": "text", "align": "left", "baseline": "middle", "fontSize": 20, "fontWeight": "bold"},
     "encoding": {"x": {"field": "x", "type": "quantitative"}, "y": {"field": "y", "type": "quantitative"}, "text": {"field": "t"}}},
    {"data": {"values": [{"t": "Preliminary", "x": 44.8, "y": 1.536}]}, "mark": {"type": "text", "align": "left", "baseline": "middle", "fontSize": 20, "fontStyle": "italic"},
     "encoding": {"x": {"field": "x", "type": "quantitative"}, "y": {"field": "y", "type": "quantitative"}, "text": {"field": "t"}}},
    {"data": {"values": [{"t": "18 fb⁻¹(2023, 13.6 TeV)", "x": 292.8, "y": 1.536}]}, "mark": {"type": "text", "align": "right", "baseline": "middle", "fontSize": 20},
     "encoding": {"x": {"field": "x", "type": "quantitative"}, "y": {"field": "y", "type": "quantitative"}, "text": {"field": "t"}}},
    {"data": {"values": [{"t": "p", "x": 254.6, "y": -0.114}, {"t": "[GeV]", "x": 270.7, "y": -0.114}]},
     "mark": {"type": "text", "align": "left", "baseline": "middle", "fontSize": 20},
     "encoding": {"x": {"field": "x", "type": "quantitative"}, "y": {"field": "y", "type": "quantitative"}, "text": {"field": "t"}}},
    {"data": {"values": [{"t": "T", "x": 261.2, "y": -0.114}]},
     "mark": {"type": "text", "align": "left", "baseline": "middle", "fontSize": 13, "dy": 8},
     "encoding": {"x": {"field": "x", "type": "quantitative"}, "y": {"field": "y", "type": "quantitative"}, "text": {"field": "t"}}}
   ]},
   {"data": {"values": [{"x": 150, "y": 0.5}]}, "mark": {"type": "point", "opacity": 0},
    "encoding": {
      "x": {"field": "x", "type": "quantitative", "axis": {"orient": "top", "values": [0,50,100,150,200,250,300], "tickCount": 300, "labels": false, "grid": false, "title": null, "tickSize": -12}},
      "y": {"field": "y", "type": "quantitative", "axis": {"orient": "right", "values": [0,0.2,0.4,0.6,0.8,1.0,1.2,1.4], "tickCount": 300, "labels": false, "grid": false, "title": null, "tickSize": -12}}}}
   ]},
  {"width": 513, "height": 498,
   "resolve": {"axis": {"x": "independent", "y": "independent"}},
   "layer": [
   {"layer": [
    {"data": {"name": "br_pts"}, "mark": {"type": "tick", "orient": "horizontal", "size": 10, "thickness": 1.5},
     "encoding": {
       "x": {"field": "x", "type": "quantitative", "scale": {"domain": [0, 60], "nice": false},
             "axis": {"values": [0,2,4,6,8,10,12,14,16,18,20,22,24,26,28,30,32,34,36,38,40,42,44,46,48,50,52,54,56,58,60], "tickCount": 300,
                      "format": "d",
                      "labelExpr": "datum.value % 10 == 0 ? datum.label : ''",
                      "tickSize": {"condition": {"test": "datum.value % 10 == 0", "value": -12}, "value": -6},
                      "gridOpacity": {"condition": {"test": "datum.value % 10 == 0", "value": 1}, "value": 0},
                      "title": null, "labelFontSize": 19, "labelColor": "#333", "tickColor": "#333", "gridColor": "#999", "gridDash": [1, 1], "labelPadding": 18}},
       "y": {"field": "y", "type": "quantitative", "scale": {"domain": [0, 1.1], "nice": false},
             "axis": {"values": [0,0.05,0.1,0.15,0.2,0.25,0.3,0.35,0.4,0.45,0.5,0.55,0.6,0.65,0.7,0.75,0.8,0.85,0.9,0.95,1.0,1.05,1.1], "tickCount": 300,
                      "format": "~g",
                      "labelExpr": "abs(datum.value*5 - round(datum.value*5)) < 0.01 && datum.value < 1.05 ? datum.label : ''",
                      "tickSize": {"condition": {"test": "abs(datum.value*5 - round(datum.value*5)) < 0.01", "value": -12}, "value": -6},
                      "gridOpacity": {"condition": {"test": "abs(datum.value*5 - round(datum.value*5)) < 0.01", "value": 1}, "value": 0},
                      "title": "Efficiency", "titleFontSize": 19, "titleColor": "#333", "titleAnchor": "end", "titlePadding": 12, "labelFontSize": 19, "labelColor": "#333", "tickColor": "#333", "gridColor": "#999", "gridDash": [1, 1], "labelPadding": 17}},
       "color": {"field": "s", "type": "nominal", "scale": {"domain": ["m", "b", "g", "r"], "range": ["#ff22ff", "#2244ff", "#119911", "#ff1111"]}, "legend": null}}},
    {"data": {"name": "br_pts"}, "mark": {"type": "point", "filled": true, "opacity": 1, "size": 40},
     "encoding": {"x": {"field": "x", "type": "quantitative"}, "y": {"field": "y", "type": "quantitative"},
       "color": {"field": "s", "type": "nominal", "legend": null},
       "shape": {"field": "s", "type": "nominal", "scale": {"domain": ["m", "b", "g", "r"], "range": ["triangle-down", "triangle-up", "square", "circle"]}, "legend": null}}},
    {"data": {"values": [{"s": "m", "x": 22.8, "y": 0.3687}, {"s": "b", "x": 22.8, "y": 0.2804}, {"s": "g", "x": 22.8, "y": 0.194}, {"s": "r", "x": 22.8, "y": 0.108}]},
     "layer": [
      {"mark": {"type": "tick", "orient": "horizontal", "size": 22, "thickness": 1.5},
       "encoding": {"x": {"field": "x", "type": "quantitative"}, "y": {"field": "y", "type": "quantitative"}, "color": {"field": "s", "type": "nominal", "legend": null}}},
      {"mark": {"type": "tick", "orient": "vertical", "size": 22, "thickness": 1.5},
       "encoding": {"x": {"field": "x", "type": "quantitative"}, "y": {"field": "y", "type": "quantitative"}, "color": {"field": "s", "type": "nominal", "legend": null}}},
      {"mark": {"type": "point", "filled": true, "opacity": 1, "size": 40},
       "encoding": {"x": {"field": "x", "type": "quantitative"}, "y": {"field": "y", "type": "quantitative"}, "color": {"field": "s", "type": "nominal", "legend": null}, "shape": {"field": "s", "type": "nominal", "legend": null}}}
     ]},
    {"data": {"values": [{"t": "p", "x": 24.5, "y": 0.3687}, {"t": "p", "x": 24.5, "y": 0.2804}, {"t": "p", "x": 24.5, "y": 0.194}, {"t": "p", "x": 24.5, "y": 0.108}, {"t": "≥ 22 GeV, Tight L1 quality", "x": 29.07, "y": 0.3687}, {"t": "≥ 15 GeV, Medium L1 quality", "x": 29.07, "y": 0.2804}, {"t": "≥ 7 GeV, Loose L1 quality", "x": 29.07, "y": 0.194}, {"t": "≥ 3 GeV, Any L1 quality", "x": 29.07, "y": 0.108}]},
     "mark": {"type": "text", "align": "left", "baseline": "middle", "fontSize": 19, "color": "#222"},
     "encoding": {"x": {"field": "x", "type": "quantitative"}, "y": {"field": "y", "type": "quantitative"}, "text": {"field": "t"}}},
    {"data": {"values": [{"t": "μ,L1", "x": 25.8, "y": 0.3687}, {"t": "μ,L1", "x": 25.8, "y": 0.2804}, {"t": "μ,L1", "x": 25.8, "y": 0.194}, {"t": "μ,L1", "x": 25.8, "y": 0.108}]},
     "mark": {"type": "text", "align": "left", "baseline": "middle", "fontSize": 13, "dy": -9, "color": "#222"},
     "encoding": {"x": {"field": "x", "type": "quantitative"}, "y": {"field": "y", "type": "quantitative"}, "text": {"field": "t"}}},
    {"data": {"values": [{"t": "T", "x": 25.8, "y": 0.3687}, {"t": "T", "x": 25.8, "y": 0.2804}, {"t": "T", "x": 25.8, "y": 0.194}, {"t": "T", "x": 25.8, "y": 0.108}]},
     "mark": {"type": "text", "align": "left", "baseline": "middle", "fontSize": 13, "dy": 9, "color": "#222"},
     "encoding": {"x": {"field": "x", "type": "quantitative"}, "y": {"field": "y", "type": "quantitative"}, "text": {"field": "t"}}},
    {"data": {"values": [{"t": "L1 Muon", "x": 33.1, "y": 0.75}]}, "mark": {"type": "text", "align": "left", "baseline": "middle", "fontSize": 52},
     "encoding": {"x": {"field": "x", "type": "quantitative"}, "y": {"field": "y", "type": "quantitative"}, "text": {"field": "t"}}},
    {"data": {"values": [{"t": "|η| ≤", "x": 37.7, "y": 0.565}]}, "mark": {"type": "text", "align": "left", "baseline": "middle", "fontSize": 21, "color": "#222"},
     "encoding": {"x": {"field": "x", "type": "quantitative"}, "y": {"field": "y", "type": "quantitative"}, "text": {"field": "t"}}},
    {"data": {"values": [{"t": "2.4", "x": 43.1, "y": 0.565}]}, "mark": {"type": "text", "align": "left", "baseline": "middle", "fontSize": 21, "fontWeight": "bold", "color": "#222"},
     "encoding": {"x": {"field": "x", "type": "quantitative"}, "y": {"field": "y", "type": "quantitative"}, "text": {"field": "t"}}},
    {"data": {"values": [{"t": "CMS", "x": 0, "y": 1.132}]}, "mark": {"type": "text", "align": "left", "baseline": "middle", "fontSize": 22, "fontWeight": "bold", "font": "Liberation Serif", "color": "#222"},
     "encoding": {"x": {"field": "x", "type": "quantitative"}, "y": {"field": "y", "type": "quantitative"}, "text": {"field": "t"}}},
    {"data": {"values": [{"t": "Preliminary", "x": 6.86, "y": 1.132}]}, "mark": {"type": "text", "align": "left", "baseline": "middle", "fontSize": 21, "fontWeight": "bold", "fontStyle": "italic", "color": "#222"},
     "encoding": {"x": {"field": "x", "type": "quantitative"}, "y": {"field": "y", "type": "quantitative"}, "text": {"field": "t"}}},
    {"data": {"values": [{"t": "18 fb⁻¹ (13.6 TeV)", "x": 60, "y": 1.132}]}, "mark": {"type": "text", "align": "right", "baseline": "middle", "fontSize": 21, "fontWeight": "bold", "color": "#222"},
     "encoding": {"x": {"field": "x", "type": "quantitative"}, "y": {"field": "y", "type": "quantitative"}, "text": {"field": "t"}}},
    {"data": {"values": [{"t": "p", "x": 35.1, "y": -0.0706}, {"t": "(Probe Reco μ) [GeV]", "x": 38.1, "y": -0.0706}]},
     "mark": {"type": "text", "align": "left", "baseline": "middle", "fontSize": 19, "color": "#333"},
     "encoding": {"x": {"field": "x", "type": "quantitative"}, "y": {"field": "y", "type": "quantitative"}, "text": {"field": "t"}}},
    {"data": {"values": [{"t": "T", "x": 36.6, "y": -0.0706}]},
     "mark": {"type": "text", "align": "left", "baseline": "middle", "fontSize": 13, "dy": 8, "color": "#333"},
     "encoding": {"x": {"field": "x", "type": "quantitative"}, "y": {"field": "y", "type": "quantitative"}, "text": {"field": "t"}}}
   ]},
   {"data": {"values": [{"x": 30, "y": 0.5}]}, "mark": {"type": "point", "opacity": 0},
    "encoding": {
      "x": {"field": "x", "type": "quantitative", "axis": {"orient": "top", "values": [0,10,20,30,40,50,60], "tickCount": 300, "labels": false, "grid": false, "title": null, "tickSize": -12, "tickColor": "#333"}},
      "y": {"field": "y", "type": "quantitative", "axis": {"orient": "right", "values": [0,0.2,0.4,0.6,0.8,1.0], "tickCount": 300, "labels": false, "grid": false, "title": null, "tickSize": -12, "tickColor": "#333"}}}}
   ]}
]
}
